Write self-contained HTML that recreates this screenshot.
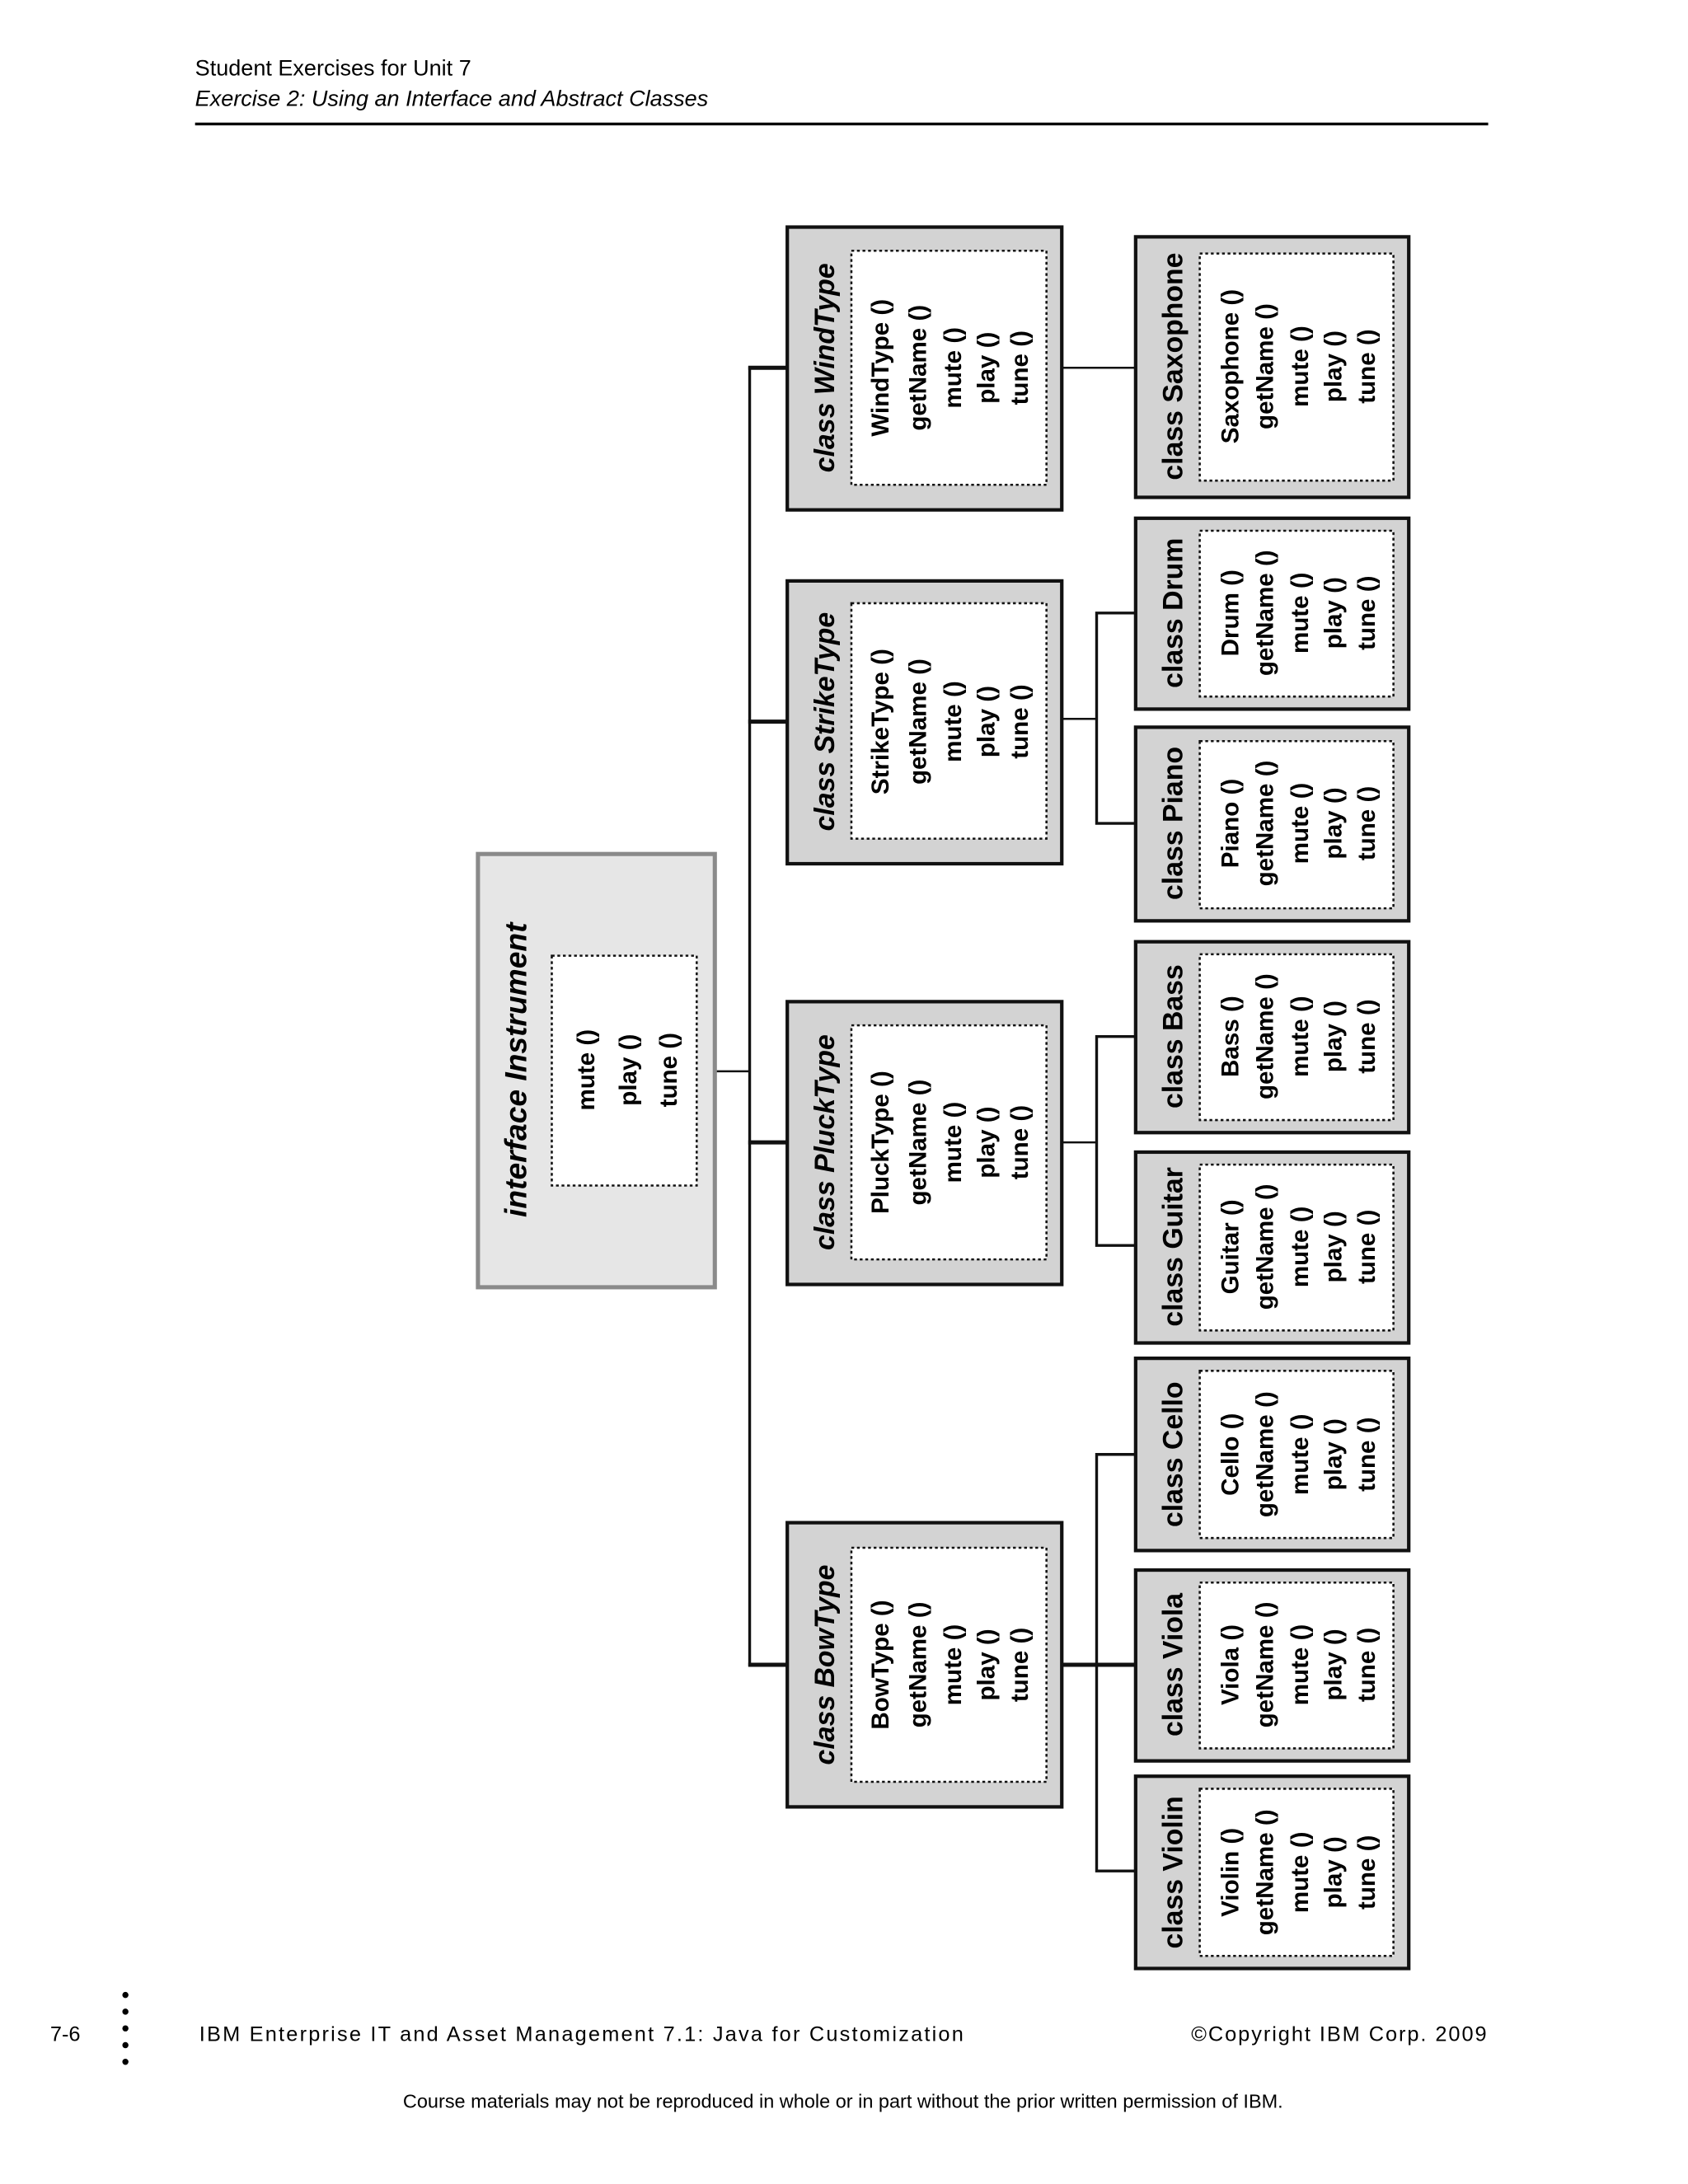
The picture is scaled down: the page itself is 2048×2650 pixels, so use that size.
<!DOCTYPE html>
<html><head><meta charset="utf-8"><style>
html,body{margin:0;padding:0;background:#fff;}
svg{display:block;}
text{font-family:"Liberation Sans",Arial,sans-serif;}
.m{font-weight:bold;font-size:17.5px;text-anchor:middle;dominant-baseline:central;}
.t{font-weight:bold;font-size:20px;text-anchor:middle;dominant-baseline:central;}
.box{fill:#d3d3d3;stroke:#111;stroke-width:2.5;}
.in{fill:#fff;stroke:#111;stroke-width:1.5;stroke-dasharray:2 2;}
.ln{stroke:#111;fill:none;}
</style></head><body>
<svg width="2048" height="2650" viewBox="0 0 1211.4 1567.7" preserveAspectRatio="none" xmlns="http://www.w3.org/2000/svg">
<rect width="1224" height="1584" fill="#fff"/>
<text x="140" y="54" font-size="16">Student Exercises for Unit 7</text>
<text x="140" y="76" font-size="16" font-style="italic">Exercise 2: Using an Interface and Abstract Classes</text>
<line x1="140" y1="89" x2="1068" y2="89" stroke="#000" stroke-width="2"/>

<line class="ln" x1="513" y1="769" x2="538" y2="769" stroke-width="1.5"/>
<line class="ln" x1="538" y1="263" x2="538" y2="1196" stroke-width="2"/>
<line class="ln" x1="537" y1="264" x2="565" y2="264" stroke-width="3"/>
<line class="ln" x1="537" y1="518" x2="565" y2="518" stroke-width="3"/>
<line class="ln" x1="537" y1="820" x2="565" y2="820" stroke-width="3"/>
<line class="ln" x1="537" y1="1195" x2="565" y2="1195" stroke-width="3"/>
<line class="ln" x1="762" y1="264" x2="815" y2="264" stroke-width="1.5"/>
<line class="ln" x1="762" y1="516" x2="787" y2="516" stroke-width="1.5"/>
<polyline class="ln" points="815,440 787,440 787,591 815,591" stroke-width="2"/>
<line class="ln" x1="762" y1="820" x2="787" y2="820" stroke-width="1.5"/>
<polyline class="ln" points="815,744 787,744 787,894 815,894" stroke-width="2"/>
<line class="ln" x1="762" y1="1195" x2="815" y2="1195" stroke-width="3"/>
<polyline class="ln" points="815,1044 787,1044 787,1343 815,1343" stroke-width="2"/>

<rect x="343" y="613" width="170" height="311" fill="#e6e6e6" stroke="#8a8a8a" stroke-width="3"/>
<rect class="in" x="396" y="686" width="104" height="165"/>
<text transform="translate(370,768) rotate(-90)" font-size="22" font-weight="bold" font-style="italic" text-anchor="middle" dominant-baseline="central">interface Instrument</text>
<text class="m" transform="translate(421,768) rotate(-90)">mute ()</text>
<text class="m" transform="translate(451,768) rotate(-90)">play ()</text>
<text class="m" transform="translate(480,768) rotate(-90)">tune ()</text>

<g>
<rect class="box" x="565" y="163" width="197" height="203"/>
<rect class="in" x="611" y="180" width="140" height="168"/>
<text class="t" font-style="italic" transform="translate(592,264) rotate(-90)">class WindType</text>
<text class="m" transform="translate(632,264) rotate(-90)">WindType ()</text>
<text class="m" transform="translate(659,264) rotate(-90)">getName ()</text>
<text class="m" transform="translate(684,264) rotate(-90)">mute ()</text>
<text class="m" transform="translate(708,264) rotate(-90)">play ()</text>
<text class="m" transform="translate(732,264) rotate(-90)">tune ()</text>
</g>
<g>
<rect class="box" x="565" y="417" width="197" height="203"/>
<rect class="in" x="611" y="433" width="140" height="169"/>
<text class="t" font-style="italic" transform="translate(592,518) rotate(-90)">class StrikeType</text>
<text class="m" transform="translate(632,518) rotate(-90)">StrikeType ()</text>
<text class="m" transform="translate(659,518) rotate(-90)">getName ()</text>
<text class="m" transform="translate(684,518) rotate(-90)">mute ()</text>
<text class="m" transform="translate(708,518) rotate(-90)">play ()</text>
<text class="m" transform="translate(732,518) rotate(-90)">tune ()</text>
</g>
<g>
<rect class="box" x="565" y="719" width="197" height="203"/>
<rect class="in" x="611" y="736" width="140" height="168"/>
<text class="t" font-style="italic" transform="translate(592,820) rotate(-90)">class PluckType</text>
<text class="m" transform="translate(632,820) rotate(-90)">PluckType ()</text>
<text class="m" transform="translate(659,820) rotate(-90)">getName ()</text>
<text class="m" transform="translate(684,820) rotate(-90)">mute ()</text>
<text class="m" transform="translate(708,820) rotate(-90)">play ()</text>
<text class="m" transform="translate(732,820) rotate(-90)">tune ()</text>
</g>
<g>
<rect class="box" x="565" y="1093" width="197" height="204"/>
<rect class="in" x="611" y="1111" width="140" height="168"/>
<text class="t" font-style="italic" transform="translate(592,1195) rotate(-90)">class BowType</text>
<text class="m" transform="translate(632,1195) rotate(-90)">BowType ()</text>
<text class="m" transform="translate(659,1195) rotate(-90)">getName ()</text>
<text class="m" transform="translate(684,1195) rotate(-90)">mute ()</text>
<text class="m" transform="translate(708,1195) rotate(-90)">play ()</text>
<text class="m" transform="translate(732,1195) rotate(-90)">tune ()</text>
</g>

<g>
<rect class="box" x="815" y="170" width="196" height="187"/>
<rect class="in" x="861" y="182" width="139" height="163"/>
<text class="t" transform="translate(842,263) rotate(-90)">class Saxophone</text>
<text class="m" transform="translate(883,263) rotate(-90)">Saxophone ()</text>
<text class="m" transform="translate(908,263) rotate(-90)">getName ()</text>
<text class="m" transform="translate(933,263) rotate(-90)">mute ()</text>
<text class="m" transform="translate(957,263) rotate(-90)">play ()</text>
<text class="m" transform="translate(981,263) rotate(-90)">tune ()</text>
</g>
<g>
<rect class="box" x="815" y="372" width="196" height="137"/>
<rect class="in" x="861" y="381" width="139" height="119"/>
<text class="t" transform="translate(842,440) rotate(-90)">class Drum</text>
<text class="m" transform="translate(883,440) rotate(-90)">Drum ()</text>
<text class="m" transform="translate(908,440) rotate(-90)">getName ()</text>
<text class="m" transform="translate(933,440) rotate(-90)">mute ()</text>
<text class="m" transform="translate(957,440) rotate(-90)">play ()</text>
<text class="m" transform="translate(981,440) rotate(-90)">tune ()</text>
</g>
<g>
<rect class="box" x="815" y="522" width="196" height="139"/>
<rect class="in" x="861" y="532" width="139" height="120"/>
<text class="t" transform="translate(842,591) rotate(-90)">class Piano</text>
<text class="m" transform="translate(883,591) rotate(-90)">Piano ()</text>
<text class="m" transform="translate(908,591) rotate(-90)">getName ()</text>
<text class="m" transform="translate(933,591) rotate(-90)">mute ()</text>
<text class="m" transform="translate(957,591) rotate(-90)">play ()</text>
<text class="m" transform="translate(981,591) rotate(-90)">tune ()</text>
</g>
<g>
<rect class="box" x="815" y="676" width="196" height="137"/>
<rect class="in" x="861" y="685" width="139" height="119"/>
<text class="t" transform="translate(842,744) rotate(-90)">class Bass</text>
<text class="m" transform="translate(883,744) rotate(-90)">Bass ()</text>
<text class="m" transform="translate(908,744) rotate(-90)">getName ()</text>
<text class="m" transform="translate(933,744) rotate(-90)">mute ()</text>
<text class="m" transform="translate(957,744) rotate(-90)">play ()</text>
<text class="m" transform="translate(981,744) rotate(-90)">tune ()</text>
</g>
<g>
<rect class="box" x="815" y="827" width="196" height="137"/>
<rect class="in" x="861" y="836" width="139" height="119"/>
<text class="t" transform="translate(842,895) rotate(-90)">class Guitar</text>
<text class="m" transform="translate(883,895) rotate(-90)">Guitar ()</text>
<text class="m" transform="translate(908,895) rotate(-90)">getName ()</text>
<text class="m" transform="translate(933,895) rotate(-90)">mute ()</text>
<text class="m" transform="translate(957,895) rotate(-90)">play ()</text>
<text class="m" transform="translate(981,895) rotate(-90)">tune ()</text>
</g>
<g>
<rect class="box" x="815" y="975" width="196" height="138"/>
<rect class="in" x="861" y="984" width="139" height="120"/>
<text class="t" transform="translate(842,1044) rotate(-90)">class Cello</text>
<text class="m" transform="translate(883,1044) rotate(-90)">Cello ()</text>
<text class="m" transform="translate(908,1044) rotate(-90)">getName ()</text>
<text class="m" transform="translate(933,1044) rotate(-90)">mute ()</text>
<text class="m" transform="translate(957,1044) rotate(-90)">play ()</text>
<text class="m" transform="translate(981,1044) rotate(-90)">tune ()</text>
</g>
<g>
<rect class="box" x="815" y="1127" width="196" height="137"/>
<rect class="in" x="861" y="1136" width="139" height="119"/>
<text class="t" transform="translate(842,1195) rotate(-90)">class Viola</text>
<text class="m" transform="translate(883,1195) rotate(-90)">Viola ()</text>
<text class="m" transform="translate(908,1195) rotate(-90)">getName ()</text>
<text class="m" transform="translate(933,1195) rotate(-90)">mute ()</text>
<text class="m" transform="translate(957,1195) rotate(-90)">play ()</text>
<text class="m" transform="translate(981,1195) rotate(-90)">tune ()</text>
</g>
<g>
<rect class="box" x="815" y="1275" width="196" height="138"/>
<rect class="in" x="861" y="1284" width="139" height="120"/>
<text class="t" transform="translate(842,1344) rotate(-90)">class Violin</text>
<text class="m" transform="translate(883,1344) rotate(-90)">Violin ()</text>
<text class="m" transform="translate(908,1344) rotate(-90)">getName ()</text>
<text class="m" transform="translate(933,1344) rotate(-90)">mute ()</text>
<text class="m" transform="translate(957,1344) rotate(-90)">play ()</text>
<text class="m" transform="translate(981,1344) rotate(-90)">tune ()</text>
</g>

<text x="36" y="1465" font-size="15">7-6</text>
<g fill="#000">
<circle cx="90" cy="1432" r="2.2"/><circle cx="90" cy="1444" r="2.2"/><circle cx="90" cy="1456" r="2.2"/><circle cx="90" cy="1468" r="2.2"/><circle cx="90" cy="1480" r="2.2"/>
</g>
<text x="143" y="1465" font-size="15" letter-spacing="1.3">IBM Enterprise IT and Asset Management 7.1: Java for Customization</text>
<text x="1068" y="1465" font-size="15" letter-spacing="1.15" text-anchor="end">©Copyright IBM Corp. 2009</text>
<text x="605" y="1513" font-size="13.9" text-anchor="middle">Course materials may not be reproduced in whole or in part without the prior written permission of IBM.</text>
</svg>
</body></html>
